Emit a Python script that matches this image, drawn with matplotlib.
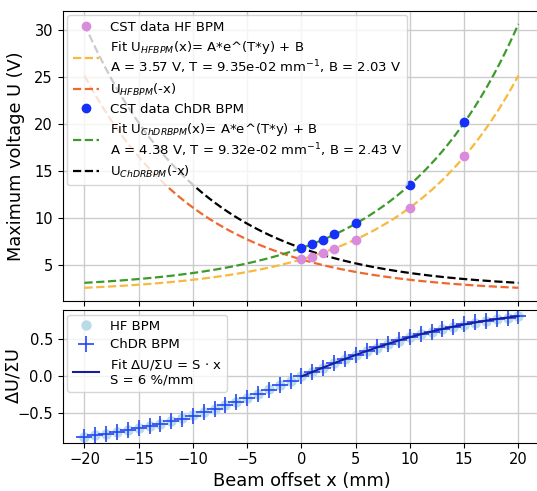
import numpy as np
import matplotlib
matplotlib.use('Agg')
import matplotlib.pyplot as plt

# CST simulation points (maximum voltage vs beam offset)
x_cst = [0, 1, 2, 3, 5, 10, 15]
u_hf = [5.6, 5.9, 6.3, 6.7, 7.7, 11.1, 16.6]
u_chdr = [6.8, 7.2, 7.7, 8.3, 9.5, 13.5, 20.2]

# exponential fit parameters (A, T, B)
fit_hf = (3.57, 9.35e-02, 2.03)
fit_chdr = (4.38, 9.32e-02, 2.43)

# difference over sum
x_ratio = list(range(-20, 21))
ratio_hf = [-0.814, -0.795, -0.775, -0.752, -0.727, -0.700, -0.671, -0.639, -0.605, -0.568,
            -0.528, -0.485, -0.439, -0.391, -0.340, -0.288, -0.233, -0.176, -0.118, -0.059,
            0.0,
            0.059, 0.118, 0.176, 0.233, 0.288, 0.340, 0.391, 0.439, 0.485, 0.528,
            0.568, 0.605, 0.639, 0.671, 0.700, 0.727, 0.752, 0.775, 0.795, 0.814]
ratio_chdr = [-0.816, -0.797, -0.777, -0.755, -0.730, -0.703, -0.674, -0.642, -0.608, -0.571,
              -0.531, -0.488, -0.442, -0.394, -0.343, -0.290, -0.235, -0.178, -0.119, -0.060,
              0.0,
              0.060, 0.119, 0.178, 0.235, 0.290, 0.343, 0.394, 0.442, 0.488, 0.531,
              0.571, 0.608, 0.642, 0.674, 0.703, 0.730, 0.755, 0.777, 0.797, 0.816]


def expo(x, a, t, b):
    return a * np.exp(t * x) + b


fig = plt.figure(figsize=(5.37, 4.91), dpi=100)
ax1 = fig.add_axes([0.1168, 0.387, 0.889, 0.591])
ax2 = fig.add_axes([0.1168, 0.0984, 0.889, 0.270], sharex=ax1)

xf = np.linspace(-20, 20, 200)

ax1.plot(x_cst, u_hf, 'o', color='#d98cdb', ms=6, label='CST data HF BPM', zorder=5)
ax1.plot(xf, expo(xf, *fit_hf), '--', color='#f7b93e', lw=1.6,
         label='Fit U$_{HFBPM}$(x)= A*e^(T*y) + B\nA = 3.57 V, T = 9.35e-02 mm$^{-1}$, B = 2.03 V')
ax1.plot(xf, expo(-xf, *fit_hf), '--', color='#f0682d', lw=1.6, label='U$_{HFBPM}$(-x)')
ax1.plot(x_cst, u_chdr, 'o', color='#1530f7', ms=6, label='CST data ChDR BPM', zorder=5)
ax1.plot(xf, expo(xf, *fit_chdr), '--', color='#3e9a2c', lw=1.6,
         label='Fit U$_{ChDRBPM}$(x)= A*e^(T*y) + B\nA = 4.38 V, T = 9.32e-02 mm$^{-1}$, B = 2.43 V')
ax1.plot(xf, expo(-xf, *fit_chdr), '--', color='black', lw=1.6, label='U$_{ChDRBPM}$(-x)')
ax1.set_ylabel('Maximum voltage U (V)', fontsize=12.8)
ax1.yaxis.set_label_coords(-0.079, 0.5)
ax1.grid(True, color='#cccccc', lw=1)
ax1.tick_params(labelsize=10.5, labelbottom=False)
ax1.legend(loc='upper left', fontsize=9.5, handlelength=2, borderaxespad=0.35, labelspacing=0.4)

ax2.plot(x_ratio, ratio_hf, 'o', color='#b9dbe8', ms=6.5, label='HF BPM')
ax2.plot(x_ratio, ratio_chdr, '+', color='#2445f5', ms=11, mew=1.2, label='ChDR BPM')
ax2.plot(x_ratio[20:], ratio_chdr[20:], '-', color='#1a1ca0', lw=1.5,
         label='Fit $\\Delta$U/$\\Sigma$U = S $\\cdot$ x\nS = 6 %/mm')
ax2.set_ylabel('$\\Delta$U/$\\Sigma$U', fontsize=12.8)
ax2.yaxis.set_label_coords(-0.085, 0.5)
ax2.set_xlabel('Beam offset x (mm)', fontsize=12.8)
ax2.xaxis.set_label_coords(0.5, -0.221)
ax2.grid(True, color='#cccccc', lw=1)
ax2.tick_params(labelsize=10.5)
ax2.legend(loc='upper left', fontsize=9.5, handlelength=2, borderaxespad=0.35, labelspacing=0.4)

fig.savefig('out.png', dpi=100)
